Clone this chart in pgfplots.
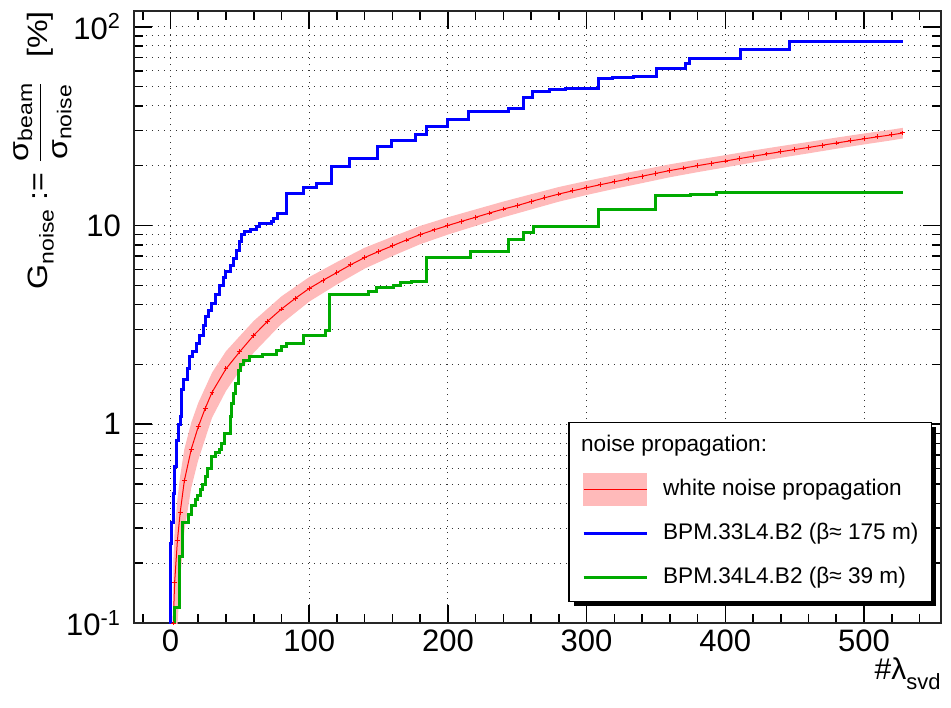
\documentclass[border=0pt]{standalone}
\usepackage{fontspec}
\setmainfont{Liberation Sans}
\usepackage{amsmath}
\usepackage{graphicx}
\usepackage{pgfplots}
\usepackage{pgfplotstable}
\pgfplotsset{compat=1.18}
\usepgfplotslibrary{fillbetween}
\usetikzlibrary{shadows}
\definecolor{rootgreen}{RGB}{0,170,0}
% the legend shadow is a preaction that the legend images inherit: drop it there
\makeatletter
\tikzset{nopre/.code={\let\tikz@preactions\pgfutil@empty}}
\makeatother

% white noise propagation: centre line
\pgfplotstableread{
x y
2 0.10
3 0.16
5 0.26
7 0.36
10 0.52
15 0.75
20 0.97
25 1.2
30 1.45
40 1.9
50 2.32
60 2.8
70 3.3
80 3.8
90 4.3
100 4.82
110 5.3
120 5.8
130 6.35
140 6.9
150 7.4
160 7.9
170 8.45
180 9.0
190 9.5
200 10.0
210 10.5
220 11.0
230 11.55
240 12.1
250 12.6
260 13.2
270 13.8
280 14.4
290 14.95
300 15.5
310 16.05
320 16.6
330 17.15
340 17.7
350 18.3
360 18.9
370 19.45
380 20.0
390 20.55
400 21.1
410 21.7
420 22.3
430 22.9
440 23.5
450 24.1
460 24.7
470 25.35
480 26.0
490 26.65
500 27.3
510 27.95
520 28.6
528 29.2
}\wnline

% white noise propagation: error band
\pgfplotstableread{
x lo hi
2 0.01 0.20
3 0.03 0.29
5 0.096 0.42
7 0.167 0.55
10 0.29 0.75
15 0.48 1.02
20 0.66 1.28
30 1.08 1.82
40 1.47 2.33
50 1.86 2.78
60 2.29 3.31
80 3.2 4.4
100 4.14 5.50
120 5.05 6.55
140 6.07 7.73
160 7.02 8.78
180 8.05 9.95
200 9.0 11.0
220 9.95 12.05
240 11.0 13.2
260 12.04 14.36
280 13.18 15.62
300 14.24 16.76
320 15.29 17.91
340 16.34 19.06
360 17.49 20.31
380 18.55 21.45
400 19.61 22.59
420 20.76 23.84
440 21.92 25.08
460 23.07 26.33
480 24.32 27.68
500 25.57 29.03
520 26.83 30.37
528 27.40 31.0
}\wnband

\begin{document}
\begin{tikzpicture}
\begin{axis}[
  scale only axis, width=403.5pt, height=306pt,
  ymode=log,
  xmin=-26.3, xmax=555.5, ymin=0.1, ymax=120,
  xtick={0,100,...,500}, minor xtick={-20,0,...,540},
  ytick={0.1,1,10,100},
  yticklabels={10\textsuperscript{-1}\hspace{9pt},1\hspace{-2pt},10\hspace{3pt},10\textsuperscript{2}},
  minor ytick={0.2,0.3,0.4,0.5,0.6,0.7,0.8,0.9,2,3,4,5,6,7,8,9,20,30,40,50,60,70,80,90},
  tick align=inside, major tick length=9pt, minor tick length=4.5pt,
  tick style={black, line width=0.8pt},
  xmajorgrids, ymajorgrids, yminorgrids,
  grid style={black!80, line width=0.5pt, dash pattern=on 0.6pt off 2.4pt},
  axis line style={black!85, line width=0.9pt},
  tick label style={font=\fontsize{15.5}{18}\selectfont},
  yticklabel style={xshift=-3pt},
  /pgf/number format/assume math mode=true,
  xlabel={\#λ\raisebox{-5pt}{\fontsize{11}{13}\selectfont svd}},
  every axis x label/.style={at={(rel axis cs:1,0)}, anchor=north east,
    inner sep=0pt, yshift=-17pt, font=\fontsize{15}{18}\selectfont},
  ylabel={\scalebox{1.15}[1]{G\raisebox{-3pt}{\fontsize{10}{12}\selectfont noise} :=
    $\dfrac{\text{σ\raisebox{-2pt}{\fontsize{10}{12}\selectfont beam}}}{\text{σ\raisebox{-2pt}{\fontsize{10}{12}\selectfont noise}}}$\hspace{10pt}[\%]}},
  every axis y label/.style={at={(rel axis cs:-0.0768,1)}, anchor=south east,
    rotate=90, inner sep=0pt, font=\fontsize{14}{16}\selectfont},
  legend image code/.code={\draw[nopre,#1] (0pt,0pt) -- (31.5pt,0pt);},
  legend cell align=left,
  legend style={at={(rel axis cs:0.989,0.0343)}, anchor=south east,
    draw=black, fill=white, line width=0.7pt,
    font=\fontsize{11.3}{13}\selectfont,
    inner xsep=6.5pt, inner ysep=6.5pt, row sep=11.5pt,
    nodes={inner sep=0pt, text height=8pt, text depth=2.5pt},
    /tikz/every odd column/.append style={column sep=7.5pt},
    drop shadow={shadow xshift=2.2pt, shadow yshift=-2.2pt, fill=black, opacity=1}},
]
\addlegendimage{empty legend}
\addlegendentry{\hspace*{-41pt}noise propagation:}

\addplot[name path=bandhi, draw=none, forget plot] table[x=x, y=hi] {\wnband};
\addplot[name path=bandlo, draw=none, forget plot] table[x=x, y=lo] {\wnband};
\addplot[fill=red!27, draw=none, forget plot] fill between[of=bandhi and bandlo];

\addplot[red, line width=0.5pt, mark=+, mark size=1.2pt,
  legend image code/.code={
    \fill[nopre, red!27, overlay] (0pt,-8pt) rectangle (31.5pt,8pt);
    \draw[nopre, red, line width=0.6pt] (0pt,0pt) -- (31.5pt,0pt);}]
  table[x=x, y=y] {\wnline};
\addlegendentry{white noise propagation}

\addplot[blue, line width=1.5pt, const plot] coordinates {
(0,0.09) (0.3,0.25) (1,0.32) (2,0.45) (3,0.61) (4,0.75) (4.5,0.83)
(5.5,1.0) (7,1.09) (8,1.49) (9.3,1.67) (12,1.9) (14,2.19) (16,2.32)
(18.5,2.55) (20.8,2.81) (23.5,3.15) (24.9,3.47) (27.5,3.75) (29.7,4.05)
(32.5,4.5) (35.7,5.01) (38.5,5.45) (39.5,5.84) (43,6.3) (45.3,6.82)
(47.5,7.5) (49.6,8.27) (51,9.0) (53.7,9.28) (58,9.6) (62,9.9) (64.5,10.2)
(73,10.5) (74.6,10.8) (77,11.5) (83.8,14.5) (95.7,15.6) (105.4,16.2)
(116.2,19.9) (129.4,21.7) (149.6,24.9) (159.5,26.8) (176.3,28.6)
(184.5,31.5) (200,34.2) (214.7,37.5) (243.6,38.6) (254.4,44.2)
(261,47.4) (273.6,48.3) (285,49.0) (308.5,54.7) (318.8,55.7) (333.7,56.3)
(350.5,61.8) (371,65.0) (374,68.9) (393.8,69.6) (410.6,76.4) (446,84.5)
(528,84.5)
};
\addlegendentry{BPM.33L4.B2 (β≈ 175 m)}

\addplot[rootgreen, line width=1.5pt, const plot] coordinates {
(0,0.05) (3.2,0.119) (6.8,0.216) (8.5,0.32) (13,0.35) (15,0.39)
(17.7,0.417) (19.5,0.44) (21.3,0.467) (23,0.5) (24.9,0.546) (27,0.6)
(29.7,0.688) (32.5,0.72) (35,0.743) (37,0.8) (39.3,0.90) (43.5,1.1)
(44.1,1.27) (45.3,1.43) (47,1.6) (48.9,1.87) (50.5,2.0) (52.5,2.10)
(57.3,2.2) (66,2.25) (76.6,2.36) (80,2.45) (83.8,2.55) (95.7,2.81)
(111.4,2.98) (115,4.51) (142.6,4.63) (148.7,4.88) (160.6,5.0)
(165.5,5.14) (173.9,5.24) (184.7,6.9) (216,7.42) (243.6,8.50)
(254.4,9.17) (261.6,9.83) (308.4,12.0) (321.7,12.1) (350,14.2)
(374.6,14.4) (393.8,14.7) (528.4,14.7)
};
\addlegendentry{BPM.34L4.B2 (β≈ 39 m)}

\coordinate (sw) at (rel axis cs:0,0);
\coordinate (ne) at (rel axis cs:1,1);
\end{axis}
\pgfresetboundingbox
\path ([shift={(-67pt,-42pt)}]sw) rectangle ([shift={(5pt,5.5pt)}]ne);
\end{tikzpicture}
\end{document}
